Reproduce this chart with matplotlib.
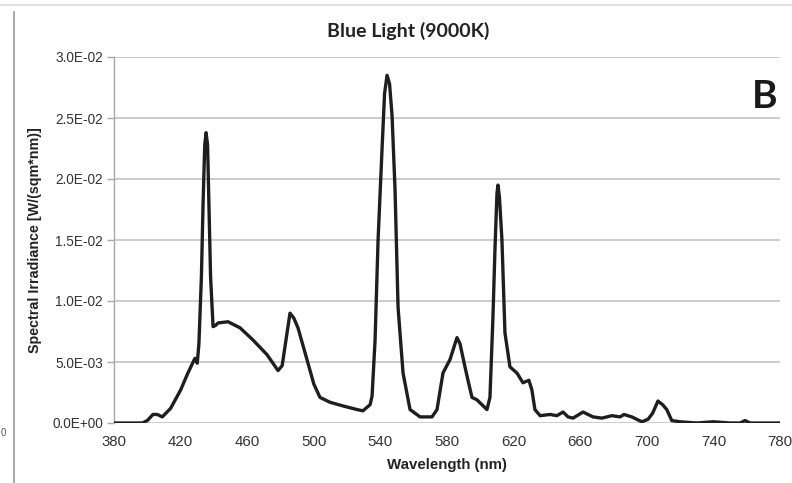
import matplotlib
matplotlib.use("Agg")
import matplotlib.pyplot as plt
from matplotlib.lines import Line2D

wavelength = [380, 390, 397, 400, 403.4, 406, 409, 414, 420, 424.4, 428.6, 430, 431, 432.5,
              433.5, 434.5, 435.3, 436.2, 437, 438, 439.5, 441, 442.5, 448.5, 455.7, 463.5,
              471.9, 478.5, 481, 483.5, 485.7, 488, 490.5, 495.9, 500, 503.7, 509.7, 517.5,
              526, 529.5, 533.8, 535, 536.8, 538.6, 541, 542.5, 544, 545.5, 547, 548.8,
              550.6, 553.6, 557.8, 563.8, 571, 574, 577.6, 581.8, 586, 587.8, 590.8, 592.6,
              595, 598, 601, 604, 605.8, 607.6, 608.8, 610, 610.6, 611.5, 613, 614.8, 617.8,
              622, 625.6, 629.2, 631, 632.8, 635.9, 641.9, 646, 649.7, 652.7, 655.7, 661.7,
              667.7, 673, 679, 684, 686.3, 691, 697, 700.7, 703.5, 706.7, 709.5, 712, 715,
              720, 730, 740, 750, 756, 759, 762, 770, 780]
irradiance = [0.0000, 0.0000, 0.0000, 0.0002, 0.0007, 0.0007, 0.0005, 0.0012, 0.0027, 0.0041,
              0.0053, 0.0049, 0.0065, 0.0120, 0.0180, 0.0228, 0.0238, 0.0228, 0.0180, 0.0120,
              0.0079, 0.0080, 0.0082, 0.0083, 0.0078, 0.0068, 0.0056, 0.0043, 0.0047, 0.0070,
              0.0090, 0.0086, 0.0078, 0.0052, 0.0032, 0.0021, 0.0017, 0.0014, 0.0011, 0.0010,
              0.0015, 0.0022, 0.0068, 0.0150, 0.0225, 0.0270, 0.0285, 0.0278, 0.0252, 0.0191,
              0.0095, 0.0041, 0.0011, 0.0005, 0.0005, 0.0011, 0.0041, 0.0052, 0.0070, 0.0065,
              0.0046, 0.0035, 0.0021, 0.0019, 0.0015, 0.0011, 0.0021, 0.0087, 0.0142, 0.0188,
              0.0195, 0.0185, 0.0150, 0.0074, 0.0046, 0.0041, 0.0033, 0.0035, 0.0027, 0.0011,
              0.0006, 0.0007, 0.0006, 0.0009, 0.0005, 0.0004, 0.0009, 0.0005, 0.0004, 0.0006,
              0.0005, 0.0007, 0.0005, 0.0001, 0.0003, 0.0008, 0.0018, 0.0015, 0.0011, 0.0002,
              0.0001, 0.0000, 0.0001, 0.0000, 0.0000, 0.0002, 0.0000, 0.0000, 0.0000]

x_ticks = [380, 420, 460, 500, 540, 580, 620, 660, 700, 740, 780]
y_ticks = [0.0, 0.005, 0.010, 0.015, 0.020, 0.025, 0.030]
y_tick_labels = ["0.0E+00", "5.0E-03", "1.0E-02", "1.5E-02", "2.0E-02", "2.5E-02", "3.0E-02"]

W, H = 792, 483
fig = plt.figure(figsize=(W / 100, H / 100), dpi=100)
ax = fig.add_axes([114 / W, 1 - 423 / H, (780 - 114) / W, (423 - 57) / H])

ax.plot(wavelength, irradiance, color="#1e1e1e", lw=2.4, solid_joinstyle="round", zorder=3)

ax.set_xlim(380, 780)
ax.set_ylim(0, 0.030)
ax.set_xticks(x_ticks)
ax.set_xticklabels([str(t) for t in x_ticks])
ax.set_yticks(y_ticks)
ax.set_yticklabels(y_tick_labels)

ax.grid(axis="y", color="#c8c8c8", lw=1.3, zorder=0)
ax.set_axisbelow(True)
for s in ["top", "right", "bottom"]:
    ax.spines[s].set_visible(False)
ax.spines["left"].set_color("#a8a8a8")
ax.spines["left"].set_linewidth(1.0)
ax.tick_params(axis="y", length=5, color="#a8a8a8", width=1.0, pad=3,
               labelsize=9.8, labelcolor="#333333")
ax.tick_params(axis="x", length=0, pad=9, labelsize=10.8, labelcolor="#333333")
for lab in ax.get_xticklabels() + ax.get_yticklabels():
    lab.set_family("Liberation Sans")

ax.set_xlabel("Wavelength (nm)", fontsize=10.8, fontweight="bold", family="Liberation Sans",
              color="#222222", labelpad=6)
ax.set_ylabel("Spectral Irradiance [W/(sqm*nm)]", fontsize=10.3, fontweight="bold",
              family="Liberation Sans", color="#222222", labelpad=7)

fig.text(408 / W, 1 - 31 / H, "Blue Light (9000K)", ha="center", va="center",
         fontsize=14, fontweight="bold", family="Lato", color="#222222")
fig.text(765 / W, 1 - 97 / H, "B", ha="center", va="center",
         fontsize=28, fontweight="bold", family="Lato", color="#1a1a1a")

# panel frame lines
fig.add_artist(Line2D([14 / W, 14 / W], [0, 1 - 12 / H], transform=fig.transFigure,
                      color="#9a9a9a", lw=1.2))
fig.add_artist(Line2D([0, 1], [1 - 5 / H, 1 - 5 / H], transform=fig.transFigure,
                      color="#e0e0e0", lw=1.5))
fig.text(1 / W, 1 - 433 / H, "0", ha="left", va="center", fontsize=7,
         family="Liberation Sans", color="#555555")

fig.savefig("out.png", dpi=100, facecolor="white")
